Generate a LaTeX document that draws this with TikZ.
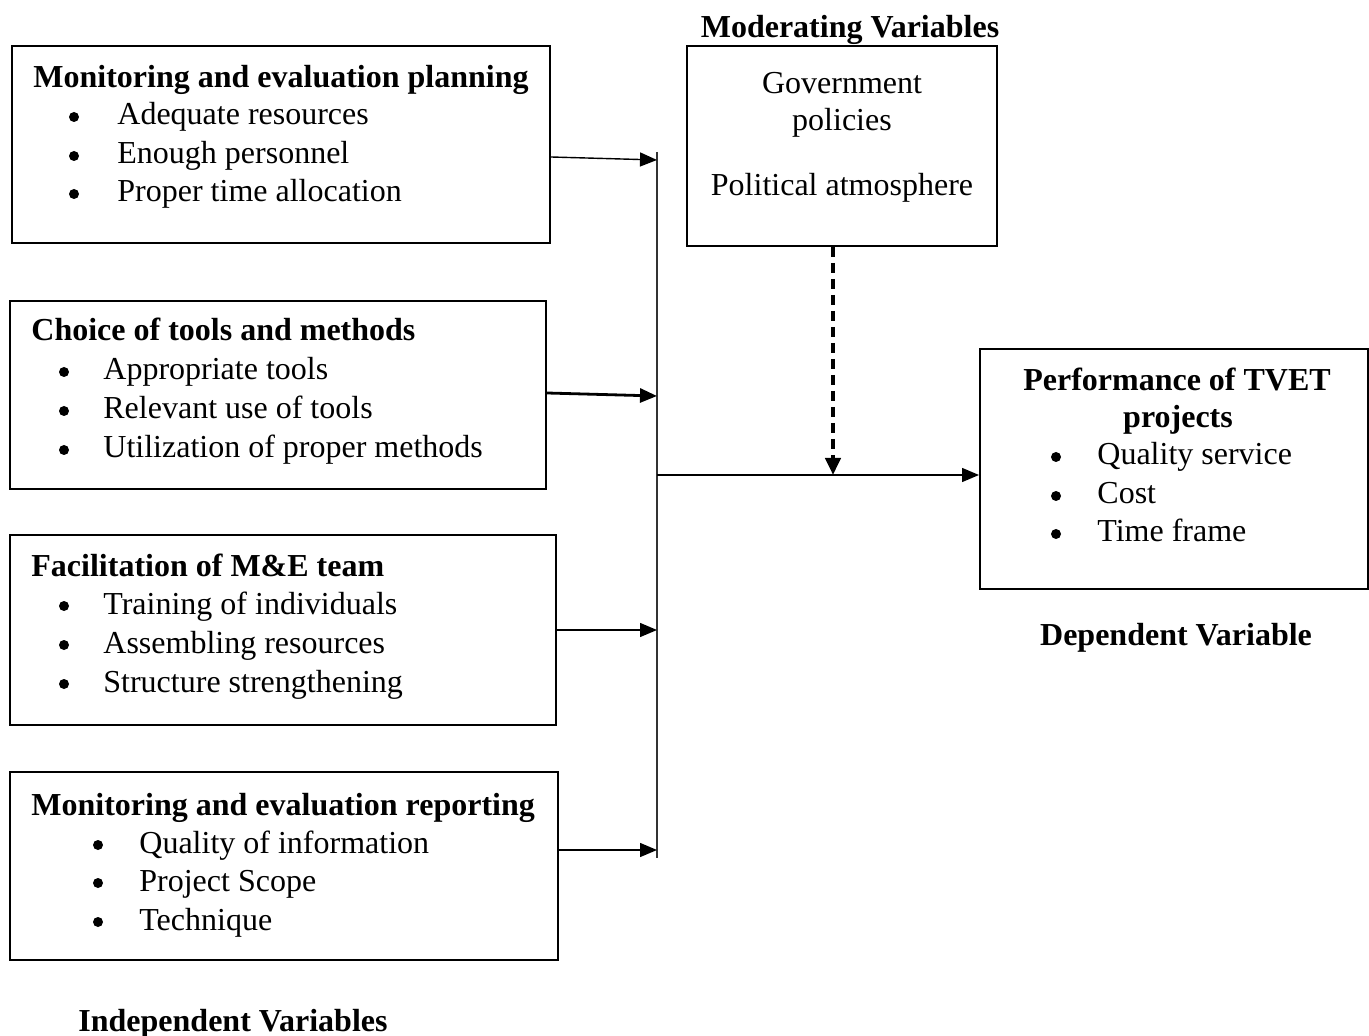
\documentclass[tikz,border=0pt]{standalone}
\usepackage{fontspec}
\setmainfont{Liberation Serif}
\usetikzlibrary{arrows.meta}
\begin{document}
\begin{tikzpicture}[x=0.5pt,y=-0.5pt,
  txt/.style={inner sep=0pt,font=\fontsize{16}{19.5}\selectfont},
  ttl/.style={txt,font=\fontsize{16}{19.5}\selectfont\bfseries},
  box/.style={draw,line width=1pt,inner sep=0pt},
  bul/.style={circle,fill,inner sep=0pt,minimum size=5pt},
  arr/.style={line width=0.7pt,-{Triangle[length=8.5pt,width=7pt]}},
  dasharr/.style={line width=2pt,dash pattern=on 5pt off 3pt,-{Triangle[length=8.5pt,width=7.5pt]}}]
\useasboundingbox (0,0) rectangle (1369,1036);
% boxes
\node[box,minimum width=269pt,minimum height=98.5pt] (b1) at (281,144.5) {};
\node[box,minimum width=268pt,minimum height=94pt] (b2) at (278,395) {};
\node[box,minimum width=273pt,minimum height=95pt] (b3) at (283,630) {};
\node[box,minimum width=274pt,minimum height=94pt] (b4) at (284,866) {};
\node[box,minimum width=155pt,minimum height=100pt] (mod) at (842,146) {};
\node[box,minimum width=194pt,minimum height=120pt] (dep) at (1174,469) {};
% box 1
\node[ttl,anchor=base west] (t1) at (33,88) {Monitoring and evaluation planning};
\node[bul] (b1a) at (74,117) {}; \node[txt,anchor=base west] (i1a) at (117,125) {Adequate resources};
\node[bul] (b1b) at (74,156) {}; \node[txt,anchor=base west] (i1b) at (117,164) {Enough personnel};
\node[bul] (b1c) at (74,194) {}; \node[txt,anchor=base west] (i1c) at (117,202) {Proper time allocation};
% box 2
\node[ttl,anchor=base west] (t2) at (31,341) {Choice of tools and methods};
\node[bul] (b2a) at (64,372) {}; \node[txt,anchor=base west] (i2a) at (103,380) {Appropriate tools};
\node[bul] (b2b) at (64,411) {}; \node[txt,anchor=base west] (i2b) at (103,419) {Relevant use of tools};
\node[bul] (b2c) at (64,450) {}; \node[txt,anchor=base west] (i2c) at (103,458) {Utilization of proper methods};
% box 3
\node[ttl,anchor=base west] (t3) at (31,576) {Facilitation of M\&E team};
\node[bul] (b3a) at (64,606) {}; \node[txt,anchor=base west] (i3a) at (103,614) {Training of individuals};
\node[bul] (b3b) at (64,645) {}; \node[txt,anchor=base west] (i3b) at (103,653) {Assembling resources};
\node[bul] (b3c) at (64,684) {}; \node[txt,anchor=base west] (i3c) at (103,692) {Structure strengthening};
% box 4
\node[ttl,anchor=base west] (t4) at (31,815) {Monitoring and evaluation reporting};
\node[bul] (b4a) at (98,845) {}; \node[txt,anchor=base west] (i4a) at (139,853) {Quality of information};
\node[bul] (b4b) at (98,883) {}; \node[txt,anchor=base west] (i4b) at (139,891) {Project Scope};
\node[bul] (b4c) at (98,922) {}; \node[txt,anchor=base west] (i4c) at (139,930) {Technique};
% moderating
\node[ttl,anchor=base] (tm) at (850,38) {Moderating Variables};
\node[txt,anchor=base] (m1) at (842,94) {Government};
\node[txt,anchor=base] (m2) at (842,131) {policies};
\node[txt,anchor=base] (m3) at (842,196) {Political atmosphere};
% dependent
\node[ttl,anchor=base] (td1) at (1177,391) {Performance of TVET};
\node[ttl,anchor=base] (td2) at (1178,428) {projects};
\node[bul] (d1) at (1056,457) {}; \node[txt,anchor=base west] (di1) at (1097,465) {Quality service};
\node[bul] (d2) at (1056,496) {}; \node[txt,anchor=base west] (di2) at (1097,504) {Cost};
\node[bul] (d3) at (1056,534) {}; \node[txt,anchor=base west] (di3) at (1097,542) {Time frame};
\node[ttl,anchor=base] (tdv) at (1176,645) {Dependent Variable};
\node[ttl,anchor=base] (tiv) at (233,1031) {Independent Variables};
% connectors
\coordinate (vt) at (657,152);
\coordinate (vb) at (657,858);
\coordinate (v1) at (657,160);
\coordinate (v2) at (657,396);
\coordinate (v3) at (657,630);
\coordinate (v4) at (657,850);
\coordinate (h) at (657,475);
\draw[line width=0.7pt,draw=black!80] (vt) -- (vb);
\draw[arr] ([yshift=-6.25pt]b1.east) -- (v1);
\draw[arr,line width=1.4pt] ([yshift=1pt]b2.east) -- (v2);
\draw[arr] (b3.east) -- (v3);
\draw[arr] ([yshift=8pt]b4.east) -- (v4);
\draw[arr] (h) -- (h -| dep.west);
\draw[dasharr] ([xshift=-4.5pt]mod.south) -- ([xshift=-4.5pt]mod.south |- h);
\end{tikzpicture}
\end{document}
